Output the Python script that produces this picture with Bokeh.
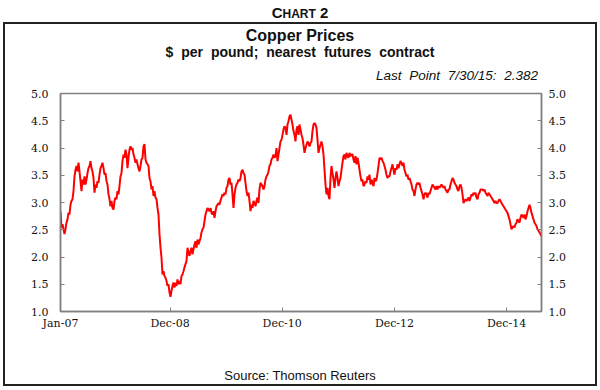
import pandas as pd
from bokeh.plotting import figure
from bokeh.layouts import column
from bokeh.models import (FixedTicker, LinearAxis, DatetimeTickFormatter,
                          PrintfTickFormatter, Range1d, Div)
from bokeh.embed import file_html
from bokeh.resources import INLINE

# ---------------- data ----------------
start_date = "2007-01-02"
end_date = "2015-07-30"

prices_2007_2008 = [
    2.84, 2.54, 2.60, 2.51, 2.42, 2.51, 2.63, 2.69, 2.81, 2.78,
    2.96, 3.03, 3.06, 3.21, 3.48, 3.60, 3.67, 3.57, 3.73, 3.57,
    3.39, 3.21, 3.42, 3.33, 3.48, 3.33, 3.42, 3.54, 3.63, 3.67,
    3.76, 3.63, 3.57, 3.45, 3.18, 3.33, 3.27, 3.39, 3.36, 3.51,
    3.63, 3.67, 3.73, 3.63, 3.51, 3.54, 3.39, 3.33, 3.15, 3.06,
    2.93, 3.03, 2.90, 2.87, 3.03, 3.09, 3.06, 3.21, 3.15, 3.30,
    3.48, 3.54, 3.76, 3.88, 3.82, 3.97, 3.88, 3.63, 3.82, 3.97,
    4.03, 3.97, 4.00, 3.88, 3.82, 3.73, 3.79, 3.70, 3.63, 3.57,
    3.67, 3.79, 3.82, 4.03, 4.07, 3.79, 3.73, 3.70, 3.67, 3.45,
    3.39, 3.24, 3.30, 3.12, 3.21, 3.09, 3.06, 2.90,
]
prices_2008_2010 = [
    2.78, 2.42, 2.17, 1.99, 1.68, 1.74, 1.65, 1.62, 1.56, 1.47,
    1.50, 1.35, 1.27, 1.38, 1.47, 1.53, 1.44, 1.53, 1.47, 1.59,
    1.50, 1.56, 1.50, 1.65, 1.68, 1.74, 1.81, 1.87, 1.93, 2.17,
    2.08, 2.02, 2.11, 2.17, 2.05, 2.14, 2.23, 2.29, 2.17, 2.32,
    2.23, 2.29, 2.35, 2.45, 2.51, 2.54, 2.66, 2.78, 2.84, 2.90,
    2.87, 2.84, 2.90, 2.81, 2.78, 2.84, 2.72, 2.84, 2.93, 2.96,
    2.99, 2.96, 3.03, 3.09, 3.15, 3.12, 3.18, 3.15, 3.27, 3.30,
    3.42, 3.45, 3.33, 3.36, 3.15, 2.90, 3.15, 3.27, 3.33, 3.36,
    3.42, 3.39, 3.45, 3.57, 3.60, 3.54, 3.51, 3.36, 3.21, 3.12,
    3.18, 3.03, 2.84, 2.96, 2.90, 3.03, 2.99,
]
prices_2010_2012 = [
    2.93, 3.03, 3.09, 2.99, 3.24, 3.36, 3.33, 3.30, 3.24, 3.30,
    3.42, 3.48, 3.51, 3.57, 3.67, 3.70, 3.79, 3.82, 3.88, 3.82,
    3.85, 4.00, 3.76, 3.88, 4.00, 4.12, 4.15, 4.24, 4.34, 4.40,
    4.37, 4.24, 4.43, 4.49, 4.58, 4.61, 4.52, 4.43, 4.31, 4.24,
    4.12, 4.34, 4.40, 4.24, 4.43, 4.34, 4.24, 4.18, 4.06, 3.91,
    4.00, 4.06, 4.12, 4.09, 4.03, 4.09, 4.12, 4.31, 4.43, 4.46,
    4.43, 4.37, 4.15, 3.91, 4.00, 4.06, 4.12, 4.03, 3.88, 3.60,
    3.33, 3.15, 3.27, 3.12, 3.06, 3.45, 3.67, 3.54, 3.42, 3.27,
    3.45, 3.57, 3.45, 3.30, 3.39, 3.45, 3.60, 3.73, 3.85, 3.88,
    3.79, 3.91, 3.85, 3.82, 3.91, 3.85, 3.88,
]
prices_2012_2013 = [
    3.88, 3.79, 3.73, 3.85, 3.70, 3.82, 3.73, 3.60, 3.48, 3.39,
    3.42, 3.30, 3.33, 3.39, 3.36, 3.48, 3.42, 3.51, 3.33, 3.42,
    3.36, 3.30, 3.45, 3.39, 3.42, 3.54, 3.67, 3.82, 3.79, 3.82,
    3.76, 3.73, 3.67, 3.60, 3.51, 3.45, 3.48, 3.48, 3.57, 3.63,
    3.70, 3.60, 3.51, 3.63, 3.60, 3.70, 3.63, 3.70, 3.76, 3.73,
    3.67, 3.73, 3.60, 3.54, 3.48, 3.51, 3.42, 3.45, 3.39, 3.33,
    3.24, 3.21, 3.12, 3.24, 3.33, 3.36, 3.33, 3.36, 3.27, 3.21,
    3.15, 3.06, 3.15, 3.18, 3.15, 3.09, 3.18, 3.15, 3.21, 3.27,
    3.33, 3.30, 3.27, 3.24, 3.30, 3.24, 3.30, 3.27, 3.30, 3.33,
    3.30, 3.27, 3.30, 3.24, 3.21, 3.18, 3.24,
]
prices_2013_2015 = [
    3.24, 3.33, 3.39, 3.45, 3.42, 3.36, 3.33, 3.30, 3.24, 3.21,
    3.30, 3.33, 3.27, 3.15, 2.99, 3.03, 3.06, 3.03, 3.06, 3.09,
    3.03, 3.09, 3.15, 3.12, 3.18, 3.15, 3.18, 3.09, 3.06, 3.15,
    3.18, 3.24, 3.24, 3.24, 3.21, 3.24, 3.18, 3.15, 3.12, 3.18,
    3.15, 3.12, 3.09, 3.06, 3.03, 2.99, 3.03, 2.99, 2.99, 3.03,
    3.06, 3.03, 2.99, 2.96, 2.93, 2.90, 2.87, 2.84, 2.81, 2.75,
    2.69, 2.60, 2.51, 2.54, 2.57, 2.54, 2.60, 2.63, 2.69, 2.66,
    2.63, 2.72, 2.78, 2.75, 2.72, 2.78, 2.69, 2.75, 2.84, 2.90,
    2.96, 2.90, 2.81, 2.75, 2.69, 2.63, 2.60, 2.57, 2.51, 2.48,
    2.45, 2.42, 2.382,
]

x_tick_dates = ["2007-01-02", "2008-12-15", "2010-12-15", "2012-12-15", "2014-12-15"]
x_tick_labels = ["Jan-07", "Dec-08", "Dec-10", "Dec-12", "Dec-14"]
y_ticks = [1.0, 1.5, 2.0, 2.5, 3.0, 3.5, 4.0, 4.5, 5.0]

# ---------------- build ----------------
prices = (prices_2007_2008 + prices_2008_2010 + prices_2010_2012
          + prices_2012_2013 + prices_2013_2015)
dates = pd.date_range(start_date, end_date, periods=len(prices))
tick_ms = [float(pd.Timestamp(d).value // 10**6) for d in x_tick_dates]

p = figure(width=590, height=247, x_axis_type="datetime",
           output_backend="svg", toolbar_location=None,
           x_range=Range1d(dates[0].to_pydatetime(), dates[-1].to_pydatetime()),
           y_range=Range1d(1.0, 5.0),
           min_border_left=55, min_border_right=54,
           min_border_top=8, min_border_bottom=20, margin=0)

p.background_fill_color = "white"
p.border_fill_color = "white"
p.xgrid.visible = False
p.ygrid.visible = False
p.outline_line_color = "#808080"
p.outline_line_width = 1.5

p.line(dates, prices, line_color="#ff0000", line_width=2.0)

p.xaxis.ticker = FixedTicker(ticks=tick_ms)
p.xaxis.formatter = DatetimeTickFormatter(years="%b-%y", months="%b-%y", days="%b-%y")
p.xaxis.major_label_overrides = dict(zip(tick_ms, x_tick_labels))
p.yaxis.ticker = FixedTicker(ticks=y_ticks)
p.yaxis.formatter = PrintfTickFormatter(format="%.1f")

right_axis = LinearAxis(ticker=FixedTicker(ticks=y_ticks),
                        formatter=PrintfTickFormatter(format="%.1f"))
p.add_layout(right_axis, "right")

for ax in [p.xaxis[0], p.yaxis[0], right_axis]:
    ax.axis_line_color = "#808080"
    ax.axis_line_width = 1.5
    ax.major_tick_line_color = "#808080"
    ax.major_tick_in = 4
    ax.major_tick_out = 0
    ax.minor_tick_line_color = None
    ax.major_label_text_font = "DejaVu Serif"
    ax.major_label_text_font_size = "11px"
    ax.major_label_text_color = "#111111"
p.yaxis[0].major_label_standoff = 12
right_axis.major_label_standoff = 7
p.xaxis[0].major_label_standoff = 5

font = "font-family:'Liberation Sans',Arial,sans-serif;color:#111;"

chart_no = Div(width=600, height=22, margin=0, text=(
    f"<div style=\"{font}width:600px;text-align:center;font-weight:bold;"
    "line-height:22px;position:relative;top:2px\">"
    "<span style=\"font-size:15px\">C</span><span style=\"font-size:12px\">HART</span>"
    "<span style=\"font-size:15px\"> 2</span></div>"))

header = Div(width=590, height=61, margin=0, text=(
    f"<div style=\"{font}width:590px\">"
    "<div style=\"text-align:center;font-weight:bold;font-size:16px;line-height:16px;"
    "padding-top:4px\">Copper Prices</div>"
    "<div style=\"text-align:center;font-weight:bold;font-size:14px;line-height:14px;"
    "margin-top:1px;word-spacing:4px\">$ per pound; nearest futures contract</div>"
    "<div style=\"text-align:right;font-style:italic;font-size:13.5px;line-height:14px;"
    "margin-top:10px;padding-right:57px;word-spacing:4px\">Last Point 7/30/15: 2.382</div>"
    "</div>"))

source = Div(width=590, height=52, margin=0, text=(
    f"<div style=\"{font}width:590px;text-align:center;font-size:13px;line-height:14px;"
    "padding-top:37px\">Source: Thomson Reuters</div>"))

boxed = column(header, p, source, margin=(0, 3, 0, 3), spacing=0,
               styles={"border": "2px solid #222222", "background-color": "white"})
page = column(chart_no, boxed, margin=0, spacing=0)

open("out.html", "w").write(file_html(page, INLINE))
